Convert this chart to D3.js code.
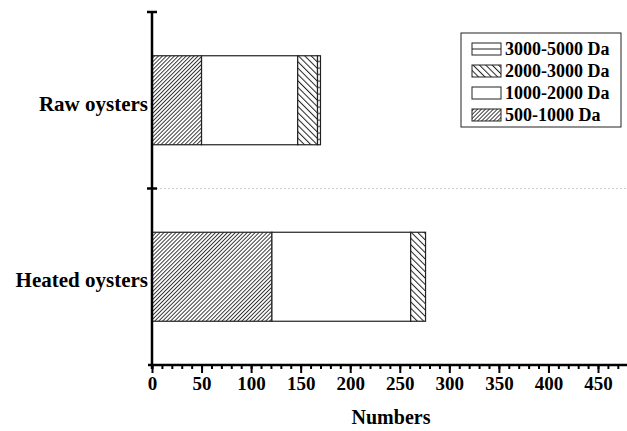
<!DOCTYPE html>
<html>
<head>
<meta charset="utf-8">
<script src="https://cdn.jsdelivr.net/npm/d3@7"></script>
<style>
  body { margin: 0; background: #fff; }
</style>
</head>
<body>
<div id="chart"></div>
<script>
(function(){
    var categories = ['Raw oysters', 'Heated oysters'];
    var seriesNames = ['500-1000 Da', '1000-2000 Da', '2000-3000 Da', '3000-5000 Da'];
    var raw    = [50, 97, 20, 3];
    var heated = [121, 140, 15, 0];
    var xTicks = [0, 50, 100, 150, 200, 250, 300, 350, 400, 450];

    var FONT   = 'Liberation Serif';

    var WIDTH  = 627,
        HEIGHT = 431,
        LEFT   = 152,
        TOP    = 12,
        BOTTOM = 365;

    var svg = d3.select('#chart').append('svg')
        .attr('width', WIDTH)
        .attr('height', HEIGHT);

    // hatch patterns
    var defs = svg.append('defs');
    var p1 = defs.append('pattern').attr('id', 'p500').attr('patternUnits', 'userSpaceOnUse')
        .attr('width', 2.8).attr('height', 2.8).attr('patternTransform', 'rotate(45)');
    p1.append('rect').attr('width', 2.8).attr('height', 2.8).attr('fill', '#fff');
    p1.append('line').attr('x1', 0.5).attr('y1', 0).attr('x2', 0.5).attr('y2', 2.8)
        .attr('stroke', '#222').attr('stroke-width', 0.9);

    var p3 = defs.append('pattern').attr('id', 'p2000').attr('patternUnits', 'userSpaceOnUse')
        .attr('width', 4.5).attr('height', 4.5).attr('patternTransform', 'rotate(-45)');
    p3.append('rect').attr('width', 4.5).attr('height', 4.5).attr('fill', '#fff');
    p3.append('line').attr('x1', 0.5).attr('y1', 0).attr('x2', 0.5).attr('y2', 4.5)
        .attr('stroke', '#222').attr('stroke-width', 1);

    var p4 = defs.append('pattern').attr('id', 'p3000').attr('patternUnits', 'userSpaceOnUse')
        .attr('width', 6).attr('height', 6.5);
    p4.append('rect').attr('width', 6).attr('height', 6.5).attr('fill', '#fff');
    p4.append('line').attr('x1', 0).attr('y1', 3).attr('x2', 6).attr('y2', 3)
        .attr('stroke', '#222').attr('stroke-width', 1);

    var fills = ['url(#p500)', '#fff', 'url(#p2000)', 'url(#p3000)'];

    var x = d3.scaleLinear().domain([0, 480]).range([LEFT, LEFT + 480 * 0.9911]);
    var y = d3.scaleBand().domain(categories).range([TOP, BOTTOM]).padding(0);

    // dotted grid line between categories
    svg.append('line')
        .attr('x1', LEFT).attr('x2', WIDTH)
        .attr('y1', y(categories[1])).attr('y2', y(categories[1]))
        .attr('stroke', '#ccc').attr('stroke-dasharray', '2,2');

    // stacked bars
    var data = [raw, heated];
    var barH = 89;
    categories.forEach(function(cat, i){
        var vals = data[i];
        var acc = 0;
        var cy = y(cat) + y.bandwidth() / 2;
        vals.forEach(function(v, j){
            if (v > 0) {
                svg.append('rect')
                    .attr('x', x(acc))
                    .attr('y', cy - barH / 2)
                    .attr('width', x(acc + v) - x(acc))
                    .attr('height', barH)
                    .attr('fill', fills[j])
                    .attr('stroke', '#222')
                    .attr('stroke-width', 1.2);
            }
            acc += v;
        });
        svg.append('text')
            .attr('x', LEFT - 4)
            .attr('y', cy)
            .attr('dy', '0.5em')
            .attr('text-anchor', 'end')
            .attr('font-family', FONT)
            .attr('font-weight', 'bold')
            .attr('font-size', 21)
            .text(cat);
    });

    // x axis
    var xAxis = svg.append('g').attr('transform', 'translate(0,' + BOTTOM + ')');
    xAxis.call(d3.axisBottom(x).tickValues(d3.range(0, 481, 10)).tickSize(4).tickFormat(''));
    xAxis.selectAll('.tick line').attr('stroke-width', 2);
    xAxis.select('.domain').attr('stroke-width', 2.5).attr('d', 'M' + (LEFT - 4) + ',0H' + WIDTH);
    var xMajor = svg.append('g').attr('transform', 'translate(0,' + BOTTOM + ')');
    xMajor.call(d3.axisBottom(x).tickValues(xTicks).tickSize(8).tickPadding(4));
    xMajor.select('.domain').remove();
    xMajor.selectAll('.tick line').attr('stroke-width', 2);
    xMajor.attr('font-family', FONT).attr('font-size', 19).attr('font-weight', 'bold');
    xMajor.selectAll('.tick text')
        .attr('font-family', FONT)
        .attr('font-weight', 'bold')
        .attr('font-size', 19)
        .attr('fill', '#000');

    svg.append('text')
        .attr('x', 391)
        .attr('y', 424)
        .attr('text-anchor', 'middle')
        .attr('font-family', FONT)
        .attr('font-weight', 'bold')
        .attr('font-size', 20)
        .text('Numbers');

    // y axis
    svg.append('line')
        .attr('x1', LEFT).attr('x2', LEFT)
        .attr('y1', TOP).attr('y2', BOTTOM + 4)
        .attr('stroke', '#000').attr('stroke-width', 2.5);
    [TOP, y(categories[1])].forEach(function(t){
        svg.append('line')
            .attr('x1', LEFT - 5).attr('x2', LEFT + 5)
            .attr('y1', t).attr('y2', t)
            .attr('stroke', '#000').attr('stroke-width', 2.5);
    });

    // legend
    var lg = svg.append('g');
    lg.append('rect')
        .attr('x', 461).attr('y', 33).attr('width', 160).attr('height', 94)
        .attr('fill', '#fff').attr('stroke', '#222').attr('stroke-width', 1);
    var order = [3, 2, 1, 0];
    order.forEach(function(j, k){
        var cy = 49 + k * 22;
        lg.append('rect')
            .attr('x', 472).attr('y', cy - 6).attr('width', 29).attr('height', 12)
            .attr('fill', j === 3 ? '#fff' : fills[j])
            .attr('stroke', '#222').attr('stroke-width', 1);
        if (j === 3) {
            lg.append('line').attr('x1', 472).attr('x2', 501).attr('y1', cy).attr('y2', cy)
                .attr('stroke', '#222').attr('stroke-width', 1);
        }
        lg.append('text')
            .attr('x', 505).attr('y', cy)
            .attr('dy', '0.36em')
            .attr('font-family', FONT)
            .attr('font-weight', 'bold')
            .attr('font-size', 18)
            .text(seriesNames[j]);
    });
})();
</script>
</body>
</html>
